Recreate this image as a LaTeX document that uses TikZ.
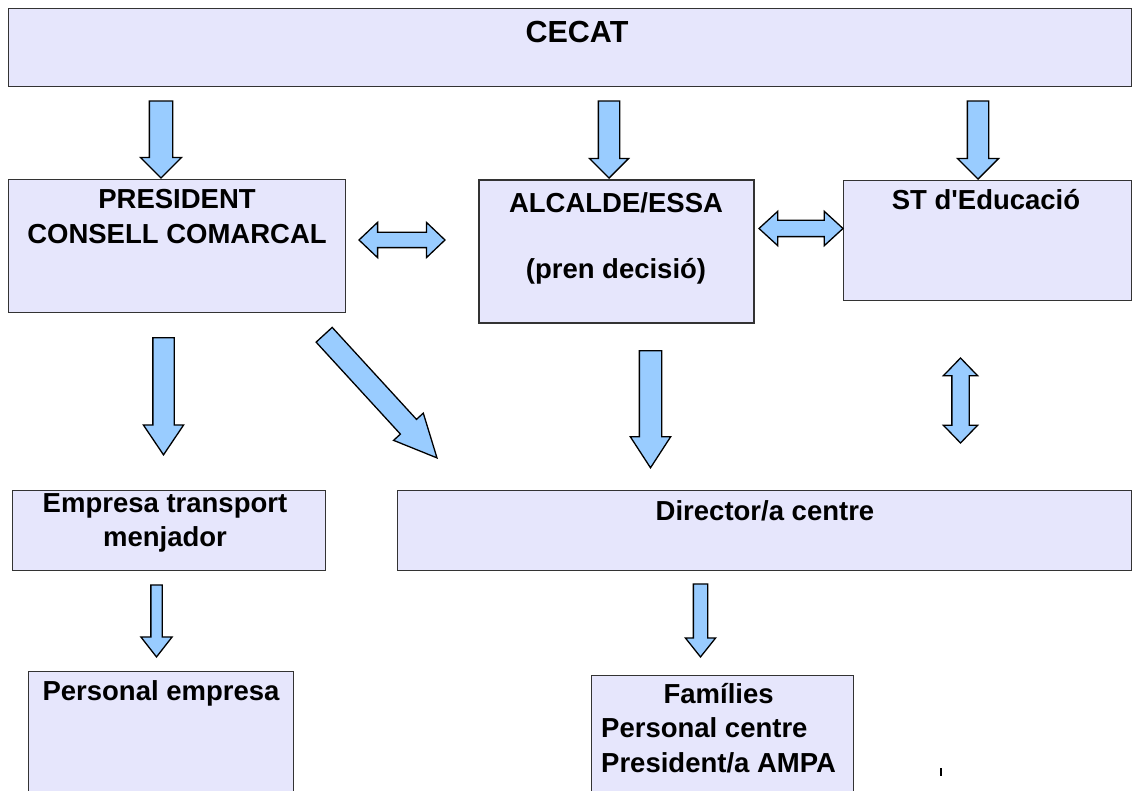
\documentclass[tikz,border=0pt]{standalone}
\usepackage{fontspec}
\setmainfont{Liberation Sans}[Ligatures=TeXOff]
\usepackage{xcolor}
\usetikzlibrary{shapes.arrows}

\definecolor{lavbox}{RGB}{230,230,252}
\definecolor{arrblue}{RGB}{153,204,255}
\newcommand{\bigtxt}{\fontsize{27.5}{34.5}\selectfont\bfseries}

\begin{document}
\begin{tikzpicture}[x=1pt,y=-1pt,
        box/.style={draw=black!80, fill=lavbox, line width=1.2pt, inner sep=0pt, anchor=north west},
        lbl/.style={font=\bigtxt, inner sep=0pt, align=center},
        blk/.style={single arrow, draw=black, fill=arrblue, line width=1.3pt, inner xsep=0pt,
                    single arrow head indent=0pt, anchor=tip},
        dbl/.style={double arrow, draw=black, fill=arrblue, line width=1.3pt, inner xsep=0pt,
                    double arrow head indent=0pt}]
    \clip (0,0) rectangle (1133,791);

    \begin{scope}[every node/.style={box}]
        \node[minimum width=1123pt, minimum height=78pt]  (cecat) at (8,8)     {};
        \node[minimum width=337pt,  minimum height=133pt] (pres)  at (8,179)   {};
        \node[minimum width=275pt,  minimum height=143pt, line width=2pt] (alc) at (478,179) {};
        \node[minimum width=288pt,  minimum height=120pt] (st)    at (843,180) {};
        \node[minimum width=313pt,  minimum height=80pt]  (emp)   at (12,490)  {};
        \node[minimum width=734pt,  minimum height=80pt]  (dir)   at (397,490) {};
        \node[minimum width=265pt,  minimum height=150pt] (pers)  at (28,671)  {};
        \node[minimum width=262pt,  minimum height=150pt] (fam)   at (591,675) {};
    \end{scope}

    % texts
    \node[lbl, anchor=base]  (cecatT) at (577,43)    {\fontsize{30.5}{36}\selectfont CECAT};
    \node[lbl, anchor=north] (presT)  at (177,189.3) {PRESIDENT\\CONSELL COMARCAL};
    \node[lbl, anchor=north] (alcT)   at (616,192.3) {ALCALDE/ESSA\\[31.5pt](pren decisió)};
    \node[lbl, anchor=base]  (stT)    at (986,210)   {ST d'Educació};
    \node[lbl, anchor=north] (empT)   at (165,493.3) {Empresa transport\\menjador};
    \node[lbl, anchor=base]  (dirT)   at (765,520)   {Director/a centre};
    \node[lbl, anchor=base]  (persT)  at (161,700)   {Personal empresa};
    \node[lbl, anchor=base west] (famT) at (601,703)
        {\begin{tabular}[t]{@{}l@{}}\multicolumn{1}{@{}c@{}}{Famílies}\\Personal centre\\President/a AMPA\end{tabular}};

    % block arrows
    \node[blk, rotate=-90, minimum height=77pt, inner ysep=11pt, single arrow head extend=9pt] (a1) at (161,179) {};
    \node[blk, rotate=-90, minimum height=77pt, inner ysep=10pt, single arrow head extend=9pt] (a2) at (609,179) {};
    \node[blk, rotate=-90, minimum height=78pt, inner ysep=10pt, single arrow head extend=10pt] (a3) at (978,180) {};
    \node[blk, rotate=-90, minimum height=117pt, inner ysep=10pt, single arrow head extend=9.5pt,
          single arrow tip angle=68] (a4) at (163.5,456) {};
    \node[blk, rotate=-47.5, minimum height=167pt, inner ysep=10.25pt, single arrow head extend=9.25pt,
          single arrow tip angle=51] (a5) at (438,459) {};
    \node[blk, rotate=-90, minimum height=117pt, inner ysep=10.5pt, single arrow head extend=9pt,
          single arrow tip angle=66] (a6) at (650.5,469) {};
    \node[blk, rotate=-90, minimum height=72pt, inner ysep=5pt, single arrow head extend=10pt,
          single arrow tip angle=76] (a7) at (156.5,658) {};
    \node[blk, rotate=-90, minimum height=73pt, inner ysep=6.5pt, single arrow head extend=8pt,
          single arrow tip angle=77] (a8) at (700.5,658) {};

    \node[dbl, minimum height=86pt, inner ysep=7pt, double arrow head extend=10pt,
          double arrow tip angle=87] (d1) at (402,240) {};
    \node[dbl, minimum height=84pt, inner ysep=7.5pt, double arrow head extend=9pt,
          double arrow tip angle=85] (d2) at (801,228.5) {};
    \node[dbl, rotate=90, minimum height=85pt, inner ysep=8pt, double arrow head extend=8.5pt,
          double arrow tip angle=88] (d3) at (960.5,400.5) {};

    \draw[line width=2pt] (941,768) -- (941,776);
\end{tikzpicture}
\end{document}
